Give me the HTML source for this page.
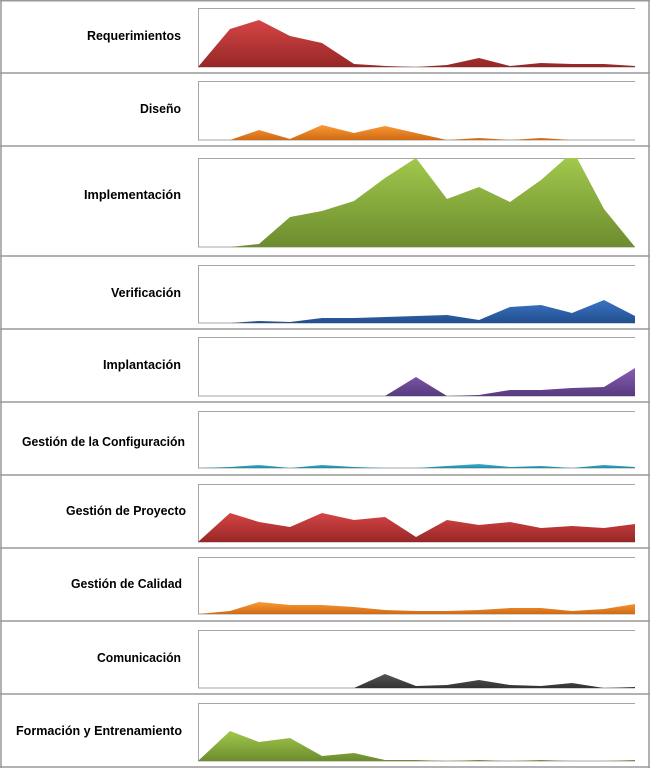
<!DOCTYPE html>
<html><head><meta charset="utf-8"><style>
html,body{margin:0;padding:0;background:#fff;}
svg{display:block}
text{font-family:"Liberation Sans",sans-serif;font-weight:bold;font-size:13px;fill:#000;text-anchor:end}
</style></head><body>
<svg width="650" height="768" viewBox="0 0 650 768" xmlns="http://www.w3.org/2000/svg">
<defs>
<linearGradient id="gR" x1="0" y1="0" x2="0" y2="1"><stop offset="0" stop-color="#d64545"/><stop offset="1" stop-color="#962726"/></linearGradient>
<linearGradient id="gO" x1="0" y1="0" x2="0" y2="1"><stop offset="0" stop-color="#fb9a35"/><stop offset="1" stop-color="#cf6a15"/></linearGradient>
<linearGradient id="gG" x1="0" y1="0" x2="0" y2="1"><stop offset="0" stop-color="#a2c84c"/><stop offset="1" stop-color="#6c8c2e"/></linearGradient>
<linearGradient id="gB" x1="0" y1="0" x2="0" y2="1"><stop offset="0" stop-color="#3b74c4"/><stop offset="1" stop-color="#224f8e"/></linearGradient>
<linearGradient id="gP" x1="0" y1="0" x2="0" y2="1"><stop offset="0" stop-color="#8a5db5"/><stop offset="1" stop-color="#573b7e"/></linearGradient>
<linearGradient id="gC" x1="0" y1="0" x2="0" y2="1"><stop offset="0" stop-color="#3fb3d0"/><stop offset="1" stop-color="#1f8aa6"/></linearGradient>
<linearGradient id="gK" x1="0" y1="0" x2="0" y2="1"><stop offset="0" stop-color="#555"/><stop offset="1" stop-color="#333"/></linearGradient>
</defs>
<g stroke="#999" stroke-width="1.5" fill="none">
<line x1="0" y1="0.75" x2="650" y2="0.75"/>
<line x1="1" y1="0" x2="1" y2="768"/>
<line x1="649" y1="0" x2="649" y2="768"/>
<line x1="0" y1="73" x2="650" y2="73"/>
<line x1="0" y1="146" x2="650" y2="146"/>
<line x1="0" y1="256" x2="650" y2="256"/>
<line x1="0" y1="329" x2="650" y2="329"/>
<line x1="0" y1="402" x2="650" y2="402"/>
<line x1="0" y1="475" x2="650" y2="475"/>
<line x1="0" y1="548" x2="650" y2="548"/>
<line x1="0" y1="621" x2="650" y2="621"/>
<line x1="0" y1="694" x2="650" y2="694"/>
<line x1="0" y1="767" x2="650" y2="767"/>
</g>
<g stroke="#a6a6a6" stroke-width="1" fill="none">
<path d="M635 8.5H198.5V67H635"/>
<path d="M635 81.5H198.5V140H635"/>
<path d="M635 158.5H198.5V247H635"/>
<path d="M635 265.5H198.5V323H635"/>
<path d="M635 337.5H198.5V396H635"/>
<path d="M635 411.5H198.5V468H635"/>
<path d="M635 484.5H198.5V542H635"/>
<path d="M635 557.5H198.5V614H635"/>
<path d="M635 630.5H198.5V688H635"/>
<path d="M635 703.5H198.5V761H635"/>
</g>
<polygon fill="url(#gR)" points="198,67 230,29 259,20 290,36 322,43 354,64 385,66 416,67 447,65 479,58 510,66 541,63 572,64 604,64 635,66 635,67"/>
<polygon fill="url(#gO)" points="198,140 230,140 259,130 290,139 322,125 354,133 385,126 416,133 447,140 479,138 510,140 541,138 572,140 635,140"/>
<polygon fill="url(#gG)" points="198,247 230,247 259,244 290,217 322,211 354,201 385,178 416,158 447,199 479,187 510,202 541,180 566,158 577,158 604,209 635,247"/>
<polygon fill="url(#gB)" points="198,323 230,323 259,321 290,322 322,318 354,318 385,317 416,316 447,315 479,320 510,307 541,305 572,313 604,300 635,316 635,323"/>
<polygon fill="url(#gP)" points="385,396 416,377 447,396 479,395 510,390 541,390 572,388 604,387 635,368 635,396"/>
<polygon fill="url(#gC)" points="198,468 230,467 259,465 290,468 322,465 354,467 385,468 416,468 447,466 479,464 510,467 541,466 572,468 604,465 635,467 635,468"/>
<polygon fill="url(#gR)" points="198,542 230,513 259,522 290,527 322,513 354,520 385,517 416,537 447,520 479,525 510,522 541,528 572,526 604,528 635,524 635,542"/>
<polygon fill="url(#gO)" points="198,614 230,611 259,602 290,605 322,605 354,607 385,610 416,611 447,611 479,610 510,608 541,608 572,611 604,609 635,604 635,614"/>
<polygon fill="url(#gK)" points="354,688 385,674 416,686 447,685 479,680 510,685 541,686 572,683 604,688 635,687 635,688"/>
<polygon fill="url(#gG)" points="198,761 230,731 259,742 290,738 322,756 354,753 385,760 416,760 447,761 479,760 510,761 541,760 572,761 604,761 635,760 635,761"/>
<text x="181" y="40" textLength="94" lengthAdjust="spacingAndGlyphs">Requerimientos</text>
<text x="181" y="113" textLength="41" lengthAdjust="spacingAndGlyphs">Diseño</text>
<text x="181" y="199" textLength="97" lengthAdjust="spacingAndGlyphs">Implementación</text>
<text x="181" y="297" textLength="70" lengthAdjust="spacingAndGlyphs">Verificación</text>
<text x="181" y="369" textLength="78" lengthAdjust="spacingAndGlyphs">Implantación</text>
<text x="185" y="446" textLength="163" lengthAdjust="spacingAndGlyphs">Gestión de la Configuración</text>
<text x="186" y="515" textLength="120" lengthAdjust="spacingAndGlyphs">Gestión de Proyecto</text>
<text x="182" y="588" textLength="111" lengthAdjust="spacingAndGlyphs">Gestión de Calidad</text>
<text x="181" y="662" textLength="84" lengthAdjust="spacingAndGlyphs">Comunicación</text>
<text x="182" y="735" textLength="166" lengthAdjust="spacingAndGlyphs">Formación y Entrenamiento</text>
</svg>
</body></html>
